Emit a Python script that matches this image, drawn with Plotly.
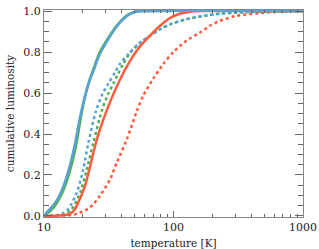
import plotly.graph_objects as go

# ---- data ----
t_blue_solid = [10.0, 10.5, 11.5, 12.5, 13.5, 15.0, 16.2, 17.4, 18.4, 19.5, 21.0, 22.5, 24.0, 27.0, 31.4, 36.0, 40.8, 46.0, 52.0, 60.0, 1000.0]
v_blue_solid = [0.0, 0.018, 0.045, 0.075, 0.115, 0.195, 0.27, 0.356, 0.44, 0.517, 0.60, 0.66, 0.705, 0.79, 0.863, 0.92, 0.96, 0.985, 0.998, 1.0, 1.0]

t_green_solid = [10.0, 11.0, 12.0, 13.0, 14.0, 15.0, 16.5, 18.0, 19.5, 21.0, 22.5, 24.0, 27.0, 31.4, 36.0, 40.8, 46.0, 52.0, 60.0, 1000.0]
v_green_solid = [0.0, 0.02, 0.045, 0.08, 0.12, 0.17, 0.26, 0.37, 0.50, 0.595, 0.665, 0.715, 0.80, 0.87, 0.925, 0.963, 0.987, 0.998, 1.0, 1.0]

t_red_solid = [10.0, 13.0, 15.9, 17.2, 18.4, 20.7, 22.7, 25.5, 28.7, 33.3, 38.6, 44.8, 53.5, 65.9, 78.7, 94.0, 112.0, 134.0, 160.0, 1000.0]
v_red_solid = [0.0, 0.002, 0.01, 0.03, 0.066, 0.146, 0.243, 0.37, 0.47, 0.575, 0.665, 0.742, 0.817, 0.88, 0.928, 0.966, 0.987, 0.997, 1.0, 1.0]

t_blue_dot = [10.0, 12.0, 13.7, 15.4, 17.9, 20.1, 22.0, 25.2, 28.5, 31.4, 35.3, 38.6, 44.8, 53.5, 65.9, 78.7, 94.0, 126.0, 170.0, 228.0, 300.0, 500.0, 1000.0]
v_blue_dot = [0.0, 0.002, 0.01, 0.034, 0.114, 0.227, 0.356, 0.512, 0.60, 0.646, 0.70, 0.742, 0.79, 0.839, 0.879, 0.911, 0.935, 0.96, 0.976, 0.987, 0.992, 0.998, 1.0]

t_green_dot = [10.0, 12.0, 14.1, 16.4, 19.0, 21.4, 24.0, 27.9, 31.0, 34.3, 37.1, 40.9, 46.1, 55.1, 65.9, 78.7, 94.0, 126.0, 170.0, 228.0, 300.0, 500.0, 1000.0]
v_green_dot = [0.0, 0.001, 0.005, 0.034, 0.114, 0.227, 0.356, 0.512, 0.59, 0.646, 0.69, 0.742, 0.795, 0.845, 0.879, 0.911, 0.935, 0.96, 0.976, 0.987, 0.992, 0.998, 1.0]

t_red_dot = [10.0, 15.0, 17.9, 22.7, 27.0, 32.4, 36.4, 43.5, 51.9, 58.5, 69.9, 83.4, 99.6, 126.0, 160.0, 191.0, 228.0, 300.0, 465.0, 700.0, 1000.0]
v_red_dot = [0.0, 0.003, 0.01, 0.042, 0.098, 0.179, 0.259, 0.372, 0.509, 0.589, 0.670, 0.742, 0.799, 0.855, 0.895, 0.928, 0.952, 0.975, 0.99, 0.997, 1.0]

x_tick_vals = [10, 100, 1000]
x_tick_text = ["10", "100", "1000"]
y_tick_vals = [0.0, 0.2, 0.4, 0.6, 0.8, 1.0]
y_tick_text = ["0.0", "0.2", "0.4", "0.6", "0.8", "1.0"]

RED = "#ff5a3c"
GREEN = "#4caf50"
BLUE = "#5aa2d6"

FONT = "DejaVu Serif"

fig = go.Figure()

series = [
    (t_red_dot, v_red_dot, RED, "dot"),
    (t_green_dot, v_green_dot, GREEN, "dot"),
    (t_blue_dot, v_blue_dot, BLUE, "dot"),
    (t_red_solid, v_red_solid, RED, "solid"),
    (t_green_solid, v_green_solid, GREEN, "solid"),
    (t_blue_solid, v_blue_solid, BLUE, "solid"),
]
for tx, vy, col, dash in series:
    fig.add_trace(go.Scatter(
        x=tx, y=vy, mode="lines",
        line=dict(color=col, width=2.5, dash=dash, shape="spline", smoothing=0.8),
        showlegend=False, hoverinfo="skip",
    ))

axis_common = dict(
    showgrid=False, zeroline=False, showline=True, linecolor="#888888", linewidth=1,
    mirror="ticks", ticks="inside", tickcolor="#666666", automargin=False,
    tickfont=dict(family=FONT, size=11, color="#222222"),
)

fig.update_xaxes(
    type="log", range=[1, 3],
    tickvals=x_tick_vals, ticktext=x_tick_text, ticklen=6,
    minor=dict(ticks="inside", ticklen=3, tickcolor="#666666",
               tickvals=[v * d for d in (10, 100) for v in range(2, 10)]),
    title=dict(text="temperature [K]", font=dict(family=FONT, size=10.5, color="#222222"), standoff=6),
    **axis_common,
)
fig.update_yaxes(
    range=[-0.005, 1.005],
    tickvals=y_tick_vals, ticktext=y_tick_text, ticklen=8,
    minor=dict(ticks="inside", ticklen=5, tickcolor="#666666", dtick=0.05),
    title=dict(text="cumulative luminosity", font=dict(family=FONT, size=10.5, color="#222222"), standoff=6),
    **axis_common,
)

fig.update_layout(
    width=319, height=249,
    margin=dict(l=44, r=16, t=10, b=32),
    plot_bgcolor="white", paper_bgcolor="white",
)

fig.write_html(
    "out.html",
    config={"displayModeBar": False},
    post_script="document.body.style.margin='0';document.body.style.overflow='hidden';",
)
